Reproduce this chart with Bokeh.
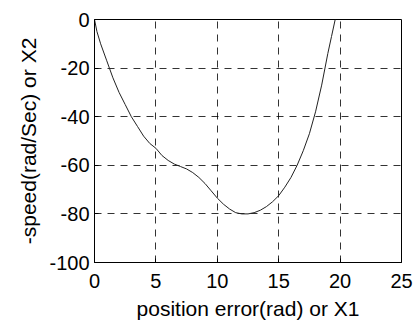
from bokeh.plotting import figure
from bokeh.models import Range1d, FixedTicker
from bokeh.embed import file_html
from bokeh.resources import INLINE

x1 = [0, 0.2, 0.5, 1, 1.5, 2, 2.5, 3, 3.5, 4, 4.5, 5, 5.5, 6, 6.5, 7, 7.5, 8, 8.5, 9,
      9.5, 10, 10.5, 11, 11.5, 12, 12.5, 13, 13.5, 14, 14.5, 15, 15.5, 16, 16.5, 17,
      17.5, 18, 18.5, 19, 19.3, 19.6]
x2 = [0, -5, -10, -17, -24, -30, -35, -40, -44, -48, -51, -53, -56, -58, -59.5, -60.5,
      -61.5, -63, -65, -67.5, -70.5, -73.5, -76, -78, -79.5, -80, -80, -79.5, -78.5,
      -77, -75, -72.5, -69, -65, -60, -54, -47, -38, -27, -14, -7, 0]
x_ticks = [0, 5, 10, 15, 20, 25]
y_ticks = [-100, -80, -60, -40, -20, 0]
x_tick_labels = ["0", "5", "10", "15", "20", "25"]
y_tick_labels = ["-100", "-80", "-60", "-40", "-20", "0"]
x_title = "position error(rad) or X1"
y_title = "-speed(rad/Sec) or X2"

p = figure(width=418, height=322, output_backend="svg", toolbar_location=None,
           x_range=Range1d(0, 25), y_range=Range1d(-100, 0),
           min_border_left=94, min_border_right=17, min_border_top=19, min_border_bottom=60,
           x_axis_label=x_title, y_axis_label=y_title)
p.background_fill_color = "white"
p.border_fill_color = "white"
p.outline_line_color = "black"
p.outline_line_width = 1

p.line(x1, x2, line_color="#222222", line_width=1)

for ax in (p.xaxis[0], p.yaxis[0]):
    ax.major_label_text_font = "Liberation Sans"
    ax.major_label_text_font_size = "20px"
    ax.major_label_text_color = "black"
    ax.axis_label_text_font = "Liberation Sans"
    ax.axis_label_text_font_size = "21px"
    ax.axis_label_text_font_style = "normal"
    ax.axis_label_text_color = "black"
    ax.axis_line_color = "black"
    ax.major_tick_in = 4
    ax.major_tick_out = 0
    ax.minor_tick_line_color = None
    ax.major_tick_line_color = "black"

p.xaxis.ticker = FixedTicker(ticks=x_ticks)
p.yaxis.ticker = FixedTicker(ticks=y_ticks)
p.xaxis.major_label_overrides = dict(zip(x_ticks, x_tick_labels))
p.yaxis.major_label_overrides = dict(zip(y_ticks, y_tick_labels))
p.xaxis.major_label_standoff = 11
p.yaxis.major_label_standoff = 5
p.xaxis.axis_label_standoff = 6
p.yaxis.axis_label_standoff = 6
p.xaxis.axis_label_text_line_height = 0.8
p.xaxis.major_label_text_line_height = 0.8

for g in (p.xgrid[0], p.ygrid[0]):
    g.grid_line_color = "black"
    g.grid_line_dash = "7 6"
    g.grid_line_width = 1
    g.grid_line_alpha = 0.8

open("out.html", "w").write(file_html(p, INLINE))
